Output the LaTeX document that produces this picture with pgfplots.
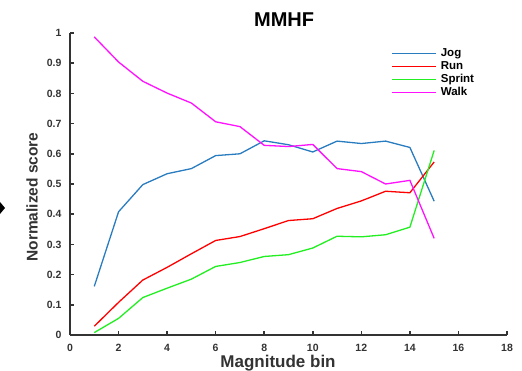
\documentclass[border=0pt]{standalone}
\usepackage{pgfplots}
\pgfplotsset{compat=1.18}
\usepackage{fontspec}
\setmainfont{Liberation Sans}
\definecolor{axgray}{HTML}{333333}
\definecolor{mblue}{HTML}{2A7CC0}
\definecolor{mred}{HTML}{FF0000}
\definecolor{mgreen}{HTML}{22EE22}
\definecolor{mmag}{HTML}{FF11FF}
\begin{document}
\begin{tikzpicture}[x=1pt,y=1pt]
\begin{axis}[
  at={(70pt,36pt)}, anchor=south west,
  width=437pt, height=302pt, scale only axis,
  xmin=0, xmax=18, ymin=0, ymax=1,
  axis x line*=bottom, axis y line*=left,
  axis line style={line width=2pt, axgray, -},
  tick align=inside, major tick length=4pt,
  tick style={line width=1.5pt, axgray},
  xtick={0,2,4,6,8,10,12,14,16,18},
  ytick={0,0.1,0.2,0.3,0.4,0.5,0.6,0.7,0.8,0.9,1},
  /pgf/number format/assume math mode=true,
  yticklabel style={/pgf/number format/fixed, /pgf/number format/precision=1, xshift=-5pt},
  xticklabel style={yshift=-6pt},
  ticklabel style={font=\bfseries\fontsize{10.5}{12}\selectfont, text=axgray},
  every axis title shift=0pt,
  title={MMHF},
  title style={font=\bfseries\fontsize{20}{24}\selectfont, at={(axis description cs:0.49,1.023)}, anchor=base},
  xlabel={Magnitude bin},
  xlabel style={font=\bfseries\fontsize{17}{20}\selectfont, text=axgray, at={(axis description cs:0.476,-0.106)}, anchor=base},
  ylabel={Normalized score},
  ylabel style={font=\bfseries\fontsize{15.5}{18}\selectfont, text=axgray, at={(axis description cs:-0.087,0.457)}, anchor=center},
  legend style={draw=none, fill=none, at={(axis description cs:0.728,0.96)}, anchor=north west,
     font=\bfseries\fontsize{11.5}{13}\selectfont, row sep=1pt, column sep=3pt,
     nodes={inner sep=1pt, text height=8pt, text depth=2pt}},
  legend cell align=left,
  legend image code/.code={\draw[#1, line width=1.5pt] (0pt,0pt) -- (44pt,0pt);},
  every axis plot/.append style={line width=1.3pt},
]
\addplot[mblue] coordinates {(1,0.161)(2,0.408)(3,0.498)(4,0.534)(5,0.551)(6,0.594)(7,0.600)(8,0.643)(9,0.630)(10,0.606)(11,0.642)(12,0.634)(13,0.642)(14,0.621)(15,0.443)};
\addlegendentry{Jog}
\addplot[mred] coordinates {(1,0.029)(2,0.108)(3,0.182)(4,0.224)(5,0.269)(6,0.313)(7,0.326)(8,0.352)(9,0.379)(10,0.385)(11,0.419)(12,0.444)(13,0.476)(14,0.471)(15,0.573)};
\addlegendentry{Run}
\addplot[mgreen] coordinates {(1,0.008)(2,0.055)(3,0.124)(4,0.155)(5,0.185)(6,0.227)(7,0.240)(8,0.260)(9,0.266)(10,0.288)(11,0.327)(12,0.325)(13,0.332)(14,0.357)(15,0.611)};
\addlegendentry{Sprint}
\addplot[mmag] coordinates {(1,0.987)(2,0.904)(3,0.840)(4,0.801)(5,0.768)(6,0.706)(7,0.690)(8,0.628)(9,0.624)(10,0.631)(11,0.551)(12,0.541)(13,0.500)(14,0.512)(15,0.320)};
\addlegendentry{Walk}
\end{axis}
\fill[black] (0pt,157pt) -- (5pt,163pt) -- (0pt,169pt) -- (-5pt,163pt) -- cycle;
\pgfresetboundingbox
\path[use as bounding box] (0pt,0pt) rectangle (522pt,371pt);
\end{tikzpicture}
\end{document}
